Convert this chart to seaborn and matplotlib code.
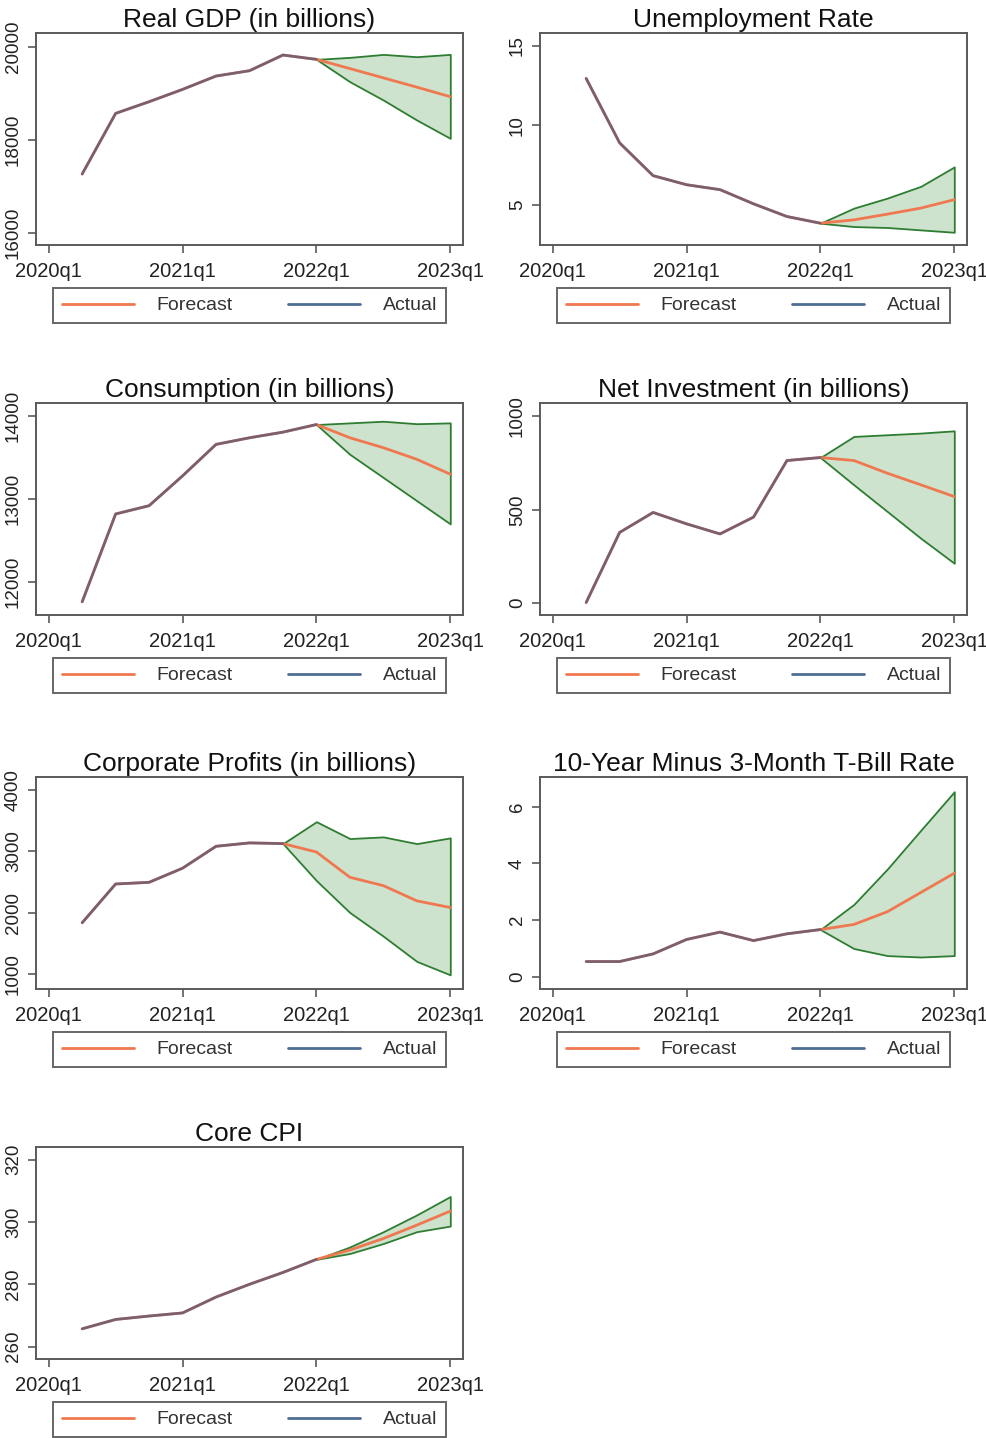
import numpy as np
import matplotlib
matplotlib.use("Agg")
import matplotlib.pyplot as plt
from matplotlib.lines import Line2D
import seaborn as sns

# Quarterly calendar shared by every panel (2020q1 .. 2023q1)
quarters = ["2020q1", "2020q2", "2020q3", "2020q4",
            "2021q1", "2021q2", "2021q3", "2021q4",
            "2022q1", "2022q2", "2022q3", "2022q4", "2023q1"]
tick_labels = ["2020q1", "2021q1", "2022q1", "2023q1"]

# Real GDP (in billions): actual from 2020q2, forecast and band from 2022q1
gdp_actual = [17262, 18566, 18817, 19082, 19369, 19484, 19821, 19728]
gdp_forecast = [19728, 19530, 19330, 19130, 18925]
gdp_lower = [19728, 19247, 18853, 18423, 18029]
gdp_upper = [19728, 19771, 19835, 19785, 19835]
gdp_yticks = [16000, 18000, 20000]

# Unemployment rate
unemp_actual = [12.94, 8.89, 6.83, 6.26, 5.95, 5.06, 4.26, 3.84]
unemp_forecast = [3.84, 4.05, 4.41, 4.79, 5.32]
unemp_lower = [3.84, 3.63, 3.57, 3.42, 3.27]
unemp_upper = [3.84, 4.79, 5.42, 6.16, 7.38]
unemp_yticks = [5, 10, 15]

# Consumption (in billions)
cons_actual = [11760, 12820, 12920, 13280, 13660, 13740, 13808, 13900]
cons_forecast = [13900, 13740, 13620, 13480, 13300]
cons_lower = [13900, 13540, 13260, 12980, 12700]
cons_upper = [13900, 13920, 13940, 13910, 13920]
cons_yticks = [12000, 13000, 14000]

# Net investment (in billions)
netinv_actual = [4, 379, 486, 425, 371, 461, 764, 780]
netinv_forecast = [780, 764, 696, 634, 571]
netinv_lower = [780, 634, 491, 348, 214]
netinv_upper = [780, 893, 902, 911, 923]
netinv_yticks = [0, 500, 1000]

# Corporate profits (in billions): forecast starts at 2021q4
profits_actual = [1837, 2467, 2494, 2724, 3080, 3135, 3124]
profits_forecast = [3124, 2987, 2576, 2440, 2193, 2084]
profits_lower = [3124, 2522, 2002, 1618, 1208, 989]
profits_upper = [3124, 3480, 3206, 3233, 3124, 3217]
profits_yticks = [1000, 2000, 3000, 4000]

# 10-year minus 3-month T-bill spread
spread_actual = [0.53, 0.53, 0.80, 1.31, 1.57, 1.27, 1.51, 1.66]
spread_forecast = [1.66, 1.84, 2.29, 2.97, 3.65]
spread_lower = [1.66, 0.99, 0.74, 0.69, 0.74]
spread_upper = [1.66, 2.55, 3.80, 5.17, 6.53]
spread_yticks = [0, 2, 4, 6]

# Core CPI
cpi_actual = [265.7, 268.7, 269.8, 270.8, 275.9, 280.0, 283.8, 288.0]
cpi_forecast = [288.0, 291.0, 294.7, 299.0, 303.5]
cpi_lower = [288.0, 289.9, 293.1, 296.9, 298.7]
cpi_upper = [288.0, 292.0, 296.9, 302.3, 308.2]
cpi_yticks = [260, 280, 300, 320]

titles = ["Real GDP (in billions)", "Unemployment Rate",
          "Consumption (in billions)", "Net Investment (in billions)",
          "Corporate Profits (in billions)", "10-Year Minus 3-Month T-Bill Rate",
          "Core CPI"]

panels = [
    (gdp_actual, gdp_forecast, gdp_lower, gdp_upper, gdp_yticks, (15735, 20295)),
    (unemp_actual, unemp_forecast, unemp_lower, unemp_upper, unemp_yticks, (2.47, 15.8)),
    (cons_actual, cons_forecast, cons_lower, cons_upper, cons_yticks, (11600, 14160)),
    (netinv_actual, netinv_forecast, netinv_lower, netinv_upper, netinv_yticks, (-63, 1072)),
    (profits_actual, profits_forecast, profits_lower, profits_upper, profits_yticks, (759, 4207)),
    (spread_actual, spread_forecast, spread_lower, spread_upper, spread_yticks, (-0.44, 7.05)),
    (cpi_actual, cpi_forecast, cpi_lower, cpi_upper, cpi_yticks, (256.0, 324.1)),
]

ORANGE = "#f07850"
BLUE = "#2f4f80"
BLUE_KEY = "#4f6e96"
GREEN_EDGE = "#2e7d32"
GREEN_FILL = "#cde3cd"
FRAME = "#5a5a5a"

sns.set_theme(style="white")
plt.rcParams["font.family"] = ["Liberation Sans", "DejaVu Sans"]

W, H = 986, 1438
fig = plt.figure(figsize=(W / 100, H / 100), dpi=100)
col_left = [36, 540]
row_top = [33, 403, 777, 1147]
box_w, box_h = 427, 212

x_all = np.arange(len(quarters))
tick_pos = [quarters.index(t) for t in tick_labels]

for i, (actual, forecast, lower, upper, yticks, ylim) in enumerate(panels):
    r, c = divmod(i, 2)
    ax = fig.add_axes([col_left[c] / W, 1 - (row_top[r] + box_h) / H,
                       box_w / W, box_h / H])

    n_act = len(actual)
    x_act = x_all[1:1 + n_act]
    x_fc = x_all[n_act:n_act + len(forecast)]
    x_line = x_all[1:n_act + len(forecast)]
    fc_line = list(actual) + list(forecast[1:])

    # confidence band for the forecast horizon
    ax.fill_between(x_fc, lower, upper, facecolor=GREEN_FILL,
                    edgecolor=GREEN_EDGE, linewidth=1.3, zorder=1)
    sns.lineplot(x=x_line, y=fc_line, color=ORANGE, linewidth=2,
                 ax=ax, zorder=3, legend=False)
    sns.lineplot(x=x_act, y=actual, color=BLUE, alpha=0.6, linewidth=2,
                 ax=ax, zorder=4, legend=False)

    ax.set_xlim(-0.38, 12.38)
    ax.set_ylim(*ylim)
    ax.set_xticks(tick_pos)
    ax.set_xticklabels(tick_labels)
    ax.set_yticks(yticks)
    ax.set_yticklabels([str(v) for v in yticks], rotation=90, va="center")
    ax.set_xlabel("")
    ax.set_ylabel("")

    for sp in ax.spines.values():
        sp.set_visible(True)
        sp.set_color(FRAME)
        sp.set_linewidth(1.4)
    ax.tick_params(axis="both", which="major", direction="out", length=6,
                   width=1.2, color=FRAME, labelsize=14.5, labelcolor="#222222",
                   bottom=True, left=True)
    ax.tick_params(axis="x", pad=6)
    ax.tick_params(axis="y", labelsize=13.5, pad=4)

    ax.set_title(titles[i], fontsize=19, pad=4, color="#111111")

    handles = [Line2D([], [], color=ORANGE, lw=2),
               Line2D([], [], color=BLUE_KEY, lw=2)]
    leg = ax.legend(handles, ["Forecast", "Actual"], loc="upper left",
                    bbox_to_anchor=(0.04, -0.378, 0.92, 0.175), mode="expand",
                    ncol=2, fontsize=14, handlelength=3.7, handletextpad=1.15,
                    borderpad=0.45, borderaxespad=0, fancybox=False,
                    frameon=True, framealpha=1)
    leg.get_frame().set_edgecolor("#666666")
    leg.get_frame().set_linewidth(1.4)
    for t in leg.get_texts():
        t.set_color("#333333")

fig.savefig("out.png", dpi=100)
